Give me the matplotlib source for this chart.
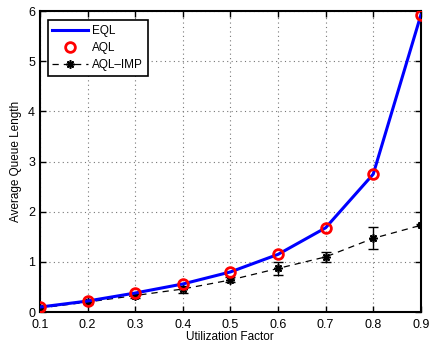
import matplotlib
matplotlib.use("Agg")
import matplotlib.pyplot as plt

plt.rcParams['font.family'] = ['Liberation Sans', 'DejaVu Sans']

util = [0.1, 0.2, 0.3, 0.4, 0.5, 0.6, 0.7, 0.8, 0.9]
eql = [0.10, 0.22, 0.38, 0.56, 0.80, 1.15, 1.68, 2.75, 5.92]
aql = [0.10, 0.22, 0.38, 0.56, 0.80, 1.15, 1.68, 2.75, 5.92]
aql_imp = [0.08, 0.20, 0.33, 0.46, 0.64, 0.87, 1.10, 1.47, 1.73]
aql_imp_err = [0.02, 0.03, 0.04, 0.07, 0.05, 0.13, 0.10, 0.22, 0.02]

fig = plt.figure(figsize=(4.29, 3.46), dpi=100)
ax = fig.add_axes([0.093, 0.098, 0.888, 0.870])

ax.plot(util, eql, color='#0000ff', lw=2.2, label='EQL', zorder=3)
ax.plot(util, aql, linestyle='none', marker='o', markersize=7, mfc='none',
        mec='#ff0000', mew=2, label='AQL', zorder=4)
ax.errorbar(util, aql_imp, yerr=aql_imp_err, fmt='none', ecolor='black',
            capsize=3.5, elinewidth=1.0, capthick=1.0, zorder=2)
ax.plot(util, aql_imp, color='black', lw=0.9, dashes=(5, 4), marker=(8, 2, 0),
        markersize=6, mew=1.2, label='AQL\u2013IMP', zorder=2)

ax.set_xlim(0.1, 0.9)
ax.set_ylim(0, 6)
ax.set_xticks(util)
ax.set_xticklabels(['0.1', '0.2', '0.3', '0.4', '0.5', '0.6', '0.7', '0.8', '0.9'])
ax.set_yticks([0, 1, 2, 3, 4, 5, 6])
ax.tick_params(direction='in', top=True, right=True, labelsize=9, length=4, width=1)
ax.tick_params(axis='x', pad=5)
ax.grid(True, linestyle=(0, (1, 3)), color='#777777', lw=0.8)
for s in ax.spines.values():
    s.set_linewidth(1.5)

ax.set_xlabel('Utilization Factor', fontsize=8.5, labelpad=0)
ax.set_ylabel('Average Queue Length', fontsize=8.5, labelpad=4)

leg = ax.legend(loc='upper left', fontsize=8.5, frameon=True, fancybox=False,
                edgecolor='black', framealpha=1, borderpad=0.4,
                handlelength=3, handletextpad=0.4, labelspacing=0.45,
                borderaxespad=0, bbox_to_anchor=(0.02, 0.97))
leg.get_frame().set_linewidth(1.2)

fig.savefig('out.png', dpi=100)
